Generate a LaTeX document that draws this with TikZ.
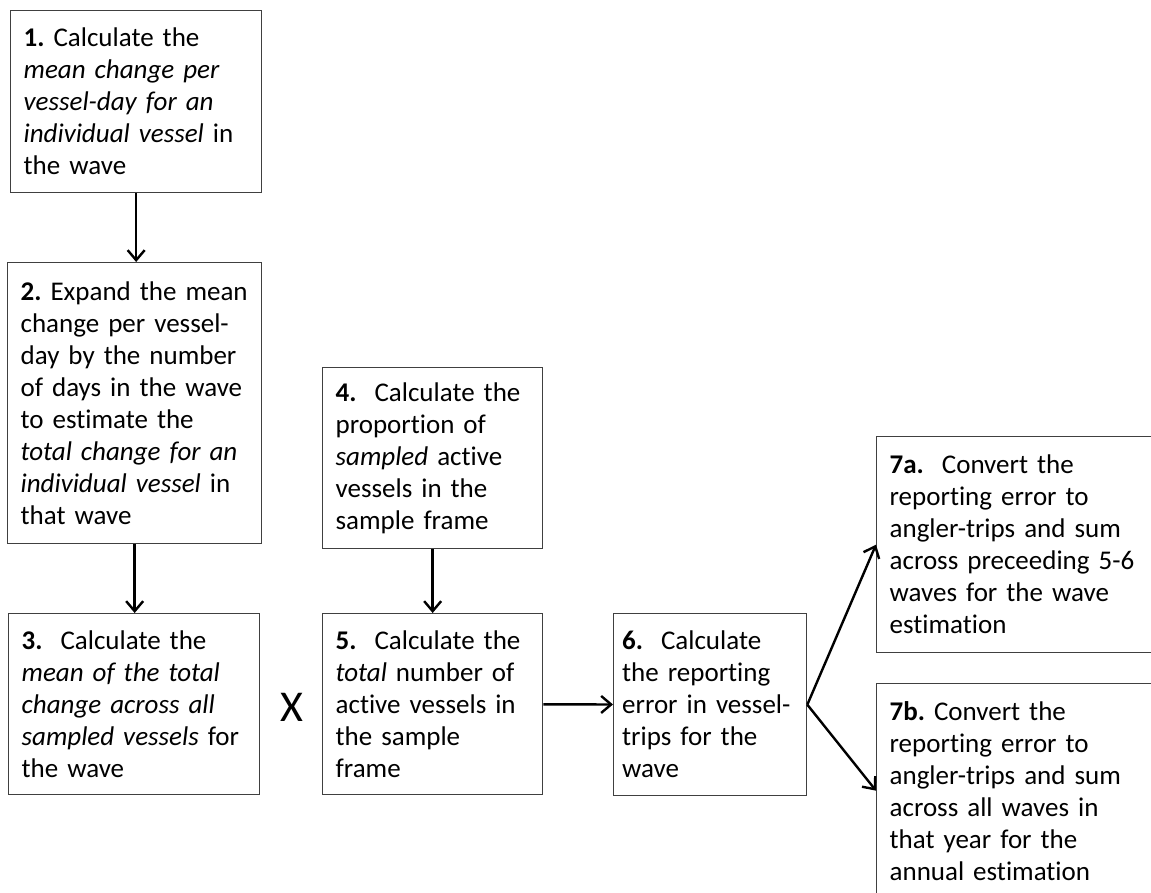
\documentclass[tikz,border=0pt]{standalone}
\usepackage{fontspec}
\setmainfont{Carlito}[Ligatures=NoCommon]
\usepackage{xcolor}
\usepackage{tikz}
\usetikzlibrary{
  positioning,
  calc,
  arrows.meta
}
\frenchspacing
\tikzset{
  stepbox/.style={draw=black!75,line width=1.3pt,anchor=north west,align=left,
    inner xsep=13pt,inner ysep=4pt,font=\fontsize{27}{32}\selectfont},
  flow/.style={-{Straight Barb[length=10pt,width=17pt]},line width=2.4pt}
}
\begin{document}
\begin{tikzpicture}[x=1pt,y=-1pt]
  \useasboundingbox (0,0) rectangle (1151,893);
  % ボックス
  \node[stepbox,text width=225pt,minimum height=182pt] (s1) at (10,10)
    {\textbf{1.} Calculate the\\ \textit{mean change per}\\ \textit{vessel-day for an}\\ \textit{individual vessel} in\\ the wave};
  \node[stepbox,text width=228pt,minimum height=281pt] (s2) at (7,262)
    {\textbf{2.} Expand the mean\\ change per vessel-\\ day by the number\\ of days in the wave\\ to estimate the\\ \textit{total change for an}\\ \textit{individual vessel} in\\ that wave};
  \node[stepbox,text width=225pt,minimum height=181pt] (s3) at (8,613)
    {\textbf{3.}\ \ Calculate the\\ \textit{mean of the total}\\ \textit{change across all}\\ \textit{sampled vessels} for\\ the wave};
  \node[stepbox,text width=194pt,minimum height=181pt] (s4) at (322,367)
    {\textbf{4.}\ \ Calculate the\\ proportion of\\ \textit{sampled} active\\ vessels in the\\ sample frame};
  \node[stepbox,text width=194pt,minimum height=181pt] (s5) at (322,613)
    {\textbf{5.}\ \ Calculate the\\ \textit{total} number of\\ active vessels in\\ the sample\\ frame};
  \node[stepbox,text width=176pt,inner xsep=8.5pt,minimum height=182pt] (s6) at (613,613)
    {\textbf{6.}\ \ Calculate\\ the reporting\\ error in vessel-\\ trips for the\\ wave};
  \node[stepbox,text width=274pt,minimum height=216pt] (s7a) at (876,436)
    {\textbf{7a.}\ \ Convert the\\ reporting error to\\ angler-trips and sum\\ across preceeding 5-6\\ waves for the wave\\ estimation};
  \node[stepbox,text width=274pt,minimum height=214pt] (s7b) at (876,683)
    {\textbf{7b.} Convert the\\ reporting error to\\ angler-trips and sum\\ across all waves in\\ that year for the\\ annual estimation};
  \node[font=\fontsize{44}{50}\selectfont] (times) at (292,707) {X}; %かけ算
  % 矢印
  \draw[flow] (s1.south) -- (s1.south |- s2.north);
  \draw[flow] (s2.south) -- (s2.south |- s3.north);
  \draw[flow] (s4) -- (s5);
  \draw[flow] (s5) -- (s6);
  \draw[flow] (s6.east) -- (s7a.west);
  \draw[flow] (s6.east) -- (s7b.west);
\end{tikzpicture}
\end{document}
